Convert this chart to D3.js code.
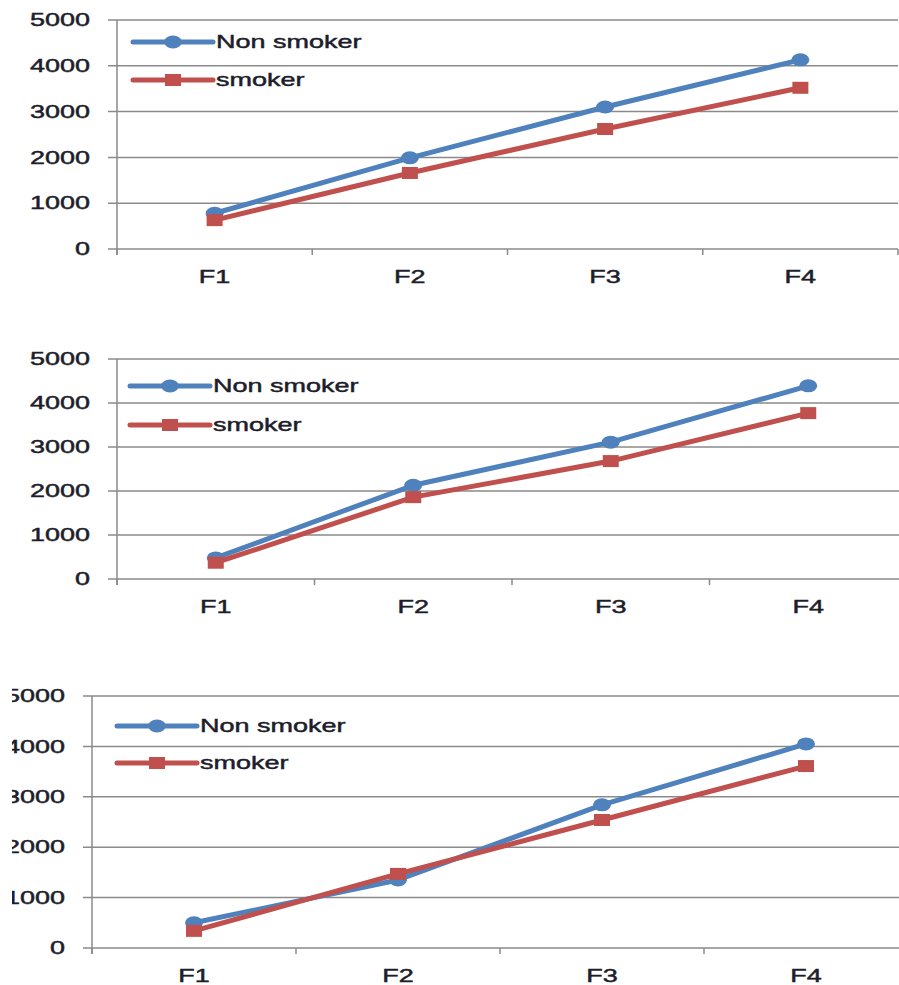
<!DOCTYPE html>
<html>
<head>
<meta charset="utf-8">
<script src="https://cdn.jsdelivr.net/npm/d3@7"></script>
<style>
  html, body { margin: 0; padding: 0; background: #fff; }
  svg { display: block; }
</style>
</head>
<body>
<svg id="chart" width="899" height="985"></svg>
<script>
// Categories, tick values and series names
const categories = ["F1", "F2", "F3", "F4"];
const yTicks = [0, 1000, 2000, 3000, 4000, 5000];
const seriesNames = ["Non smoker", "smoker"];

// Panel 1 values
const nonSmoker1 = [780, 1990, 3100, 4130];
const smoker1 = [630, 1660, 2620, 3520];
// Panel 2 values
const nonSmoker2 = [480, 2130, 3110, 4390];
const smoker2 = [370, 1860, 2680, 3770];
// Panel 3 values
const nonSmoker3 = [500, 1350, 2840, 4050];
const smoker3 = [340, 1470, 2540, 3610];

const blue = "#4F81BD";
const red = "#C0504D";
const gridColor = "#8a8a8a";
const textColor = "#1d1d2b";
const stretch = 1.5; // horizontal stretch applied to all text

const panels = [
  { left: 117, right: 898, top: 20, bottom: 249, legX: 133, legY: [42, 80], series: [nonSmoker1, smoker1] },
  { left: 117, right: 907, top: 359, bottom: 579, legX: 130, legY: [386, 425], series: [nonSmoker2, smoker2] },
  { left: 92, right: 908, top: 696, bottom: 948, legX: 117, legY: [726, 763], series: [nonSmoker3, smoker3], clipLeft: 12 }
];

const svg = d3.select("#chart");

function stretchedText(g, x, y, str, anchor, size) {
  return g.append("text")
    .attr("transform", `translate(${x},${y}) scale(${stretch},1)`)
    .attr("text-anchor", anchor)
    .attr("dominant-baseline", "central")
    .attr("font-family", "Liberation Sans, Arial, sans-serif")
    .attr("font-size", size)
    .attr("fill", textColor)
    .attr("stroke", textColor)
    .attr("stroke-width", 0.45)
    .text(str);
}

function marker(g, kind, cx, cy, color) {
  if (kind === 0) {
    g.append("ellipse").attr("cx", cx).attr("cy", cy).attr("rx", 9).attr("ry", 6.5).attr("fill", color);
  } else {
    g.append("rect").attr("x", cx - 8).attr("y", cy - 6).attr("width", 16).attr("height", 12).attr("fill", color);
  }
}

panels.forEach((p, pi) => {
  const g = svg.append("g");

  const x = d3.scaleBand().domain(categories).range([p.left, p.right]).padding(0);
  const y = d3.scaleLinear().domain([0, 5000]).range([p.bottom, p.top]);

  // horizontal gridlines with short ticks left of the axis
  g.selectAll(".grid").data(yTicks).join("line")
    .attr("x1", p.left - 9).attr("x2", p.right)
    .attr("y1", d => y(d)).attr("y2", d => y(d))
    .attr("stroke", gridColor).attr("stroke-width", 1.5);

  // vertical axis line
  g.append("line")
    .attr("x1", p.left).attr("x2", p.left)
    .attr("y1", y(5000)).attr("y2", y(0) + 6)
    .attr("stroke", gridColor).attr("stroke-width", 1.5);

  // category boundary ticks below the baseline
  const bounds = categories.map(c => x(c)).concat([x(categories[categories.length - 1]) + x.bandwidth()]);
  g.selectAll(".xtick").data(bounds).join("line")
    .attr("x1", d => d).attr("x2", d => d)
    .attr("y1", y(0)).attr("y2", y(0) + 6)
    .attr("stroke", gridColor).attr("stroke-width", 1.5);

  // y tick labels
  const labelG = g.append("g");
  if (p.clipLeft) {
    const id = "clip" + pi;
    svg.append("clipPath").attr("id", id).append("rect")
      .attr("x", p.clipLeft).attr("y", p.top - 20).attr("width", 899).attr("height", p.bottom - p.top + 40);
    labelG.attr("clip-path", `url(#${id})`);
  }
  yTicks.forEach(t => {
    stretchedText(labelG, p.left - 27, y(t), String(t), "end", 18);
  });

  // x category labels
  categories.forEach(c => {
    stretchedText(g, x(c) + x.bandwidth() / 2, y(0) + 28, c, "middle", 18);
  });

  // series lines and markers
  const colors = [blue, red];
  p.series.forEach((vals, si) => {
    const pts = vals.map((v, i) => [x(categories[i]) + x.bandwidth() / 2, y(v)]);
    g.append("path")
      .attr("d", d3.line()(pts))
      .attr("fill", "none")
      .attr("stroke", colors[si])
      .attr("stroke-width", 5)
      .attr("stroke-linejoin", "round");
    pts.forEach(pt => marker(g, si, pt[0], pt[1], colors[si]));
  });

  // legend
  seriesNames.forEach((name, si) => {
    const ly = p.legY[si];
    g.append("line")
      .attr("x1", p.legX).attr("x2", p.legX + 80)
      .attr("y1", ly).attr("y2", ly)
      .attr("stroke", colors[si]).attr("stroke-width", 5).attr("stroke-linecap", "round");
    marker(g, si, p.legX + 40, ly, colors[si]);
    stretchedText(g, p.legX + 83, ly, name, "start", 18);
  });
});
</script>
</body>
</html>
